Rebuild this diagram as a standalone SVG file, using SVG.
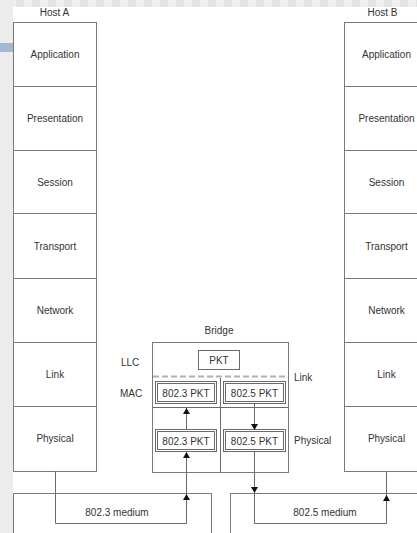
<svg xmlns="http://www.w3.org/2000/svg" width="417" height="533" viewBox="0 0 417 533">
<style>
.bx{fill:#fff;stroke:#7a7a7a;stroke-width:1}
.ln{fill:none;stroke:#6a6a6a;stroke-width:1}
.pk{fill:none;stroke:#6a6a6a;stroke-width:1}
text{font-family:"Liberation Sans",Arial,sans-serif;font-size:10px;fill:#333;text-anchor:middle}
.l{text-anchor:start}
</style>
<defs>
<pattern id="chk" width="16" height="8" patternUnits="userSpaceOnUse">
<rect width="16" height="8" fill="#efefef"/>
<rect width="8" height="8" fill="#e3e3e3"/>
</pattern>
<marker id="ah" viewBox="0 0 6 8" refX="6" refY="4" markerWidth="6" markerHeight="8" orient="auto" markerUnits="userSpaceOnUse">
<path d="M0,0.5 L6,4 L0,7.5 z" fill="#111"/>
</marker>
</defs>
<rect width="417" height="533" fill="#fff"/>
<rect x="0" y="0" width="417" height="7" fill="url(#chk)"/>
<rect x="0" y="0" width="13" height="533" fill="#ececec"/>
<rect x="0" y="43" width="13" height="9" fill="#a3b9d1"/>

<g id="hostA">
<text x="54.5" y="16">Host A</text>
<rect class="bx" x="13.5" y="22.5" width="83" height="64"/>
<rect class="bx" x="13.5" y="86.5" width="83" height="64"/>
<rect class="bx" x="13.5" y="150.5" width="83" height="63"/>
<rect class="bx" x="13.5" y="213.5" width="83" height="65"/>
<rect class="bx" x="13.5" y="278.5" width="83" height="64"/>
<rect class="bx" x="13.5" y="342.5" width="83" height="64"/>
<rect class="bx" x="13.5" y="406.5" width="83" height="65"/>
<text x="55" y="57.5">Application</text>
<text x="55" y="121.5">Presentation</text>
<text x="55" y="185.5">Session</text>
<text x="55" y="249.5">Transport</text>
<text x="55" y="313.5">Network</text>
<text x="55" y="377.5">Link</text>
<text x="55" y="441.5">Physical</text>
</g>

<g id="hostB">
<text x="382.5" y="16">Host B</text>
<rect class="bx" x="344.5" y="22.5" width="84" height="64"/>
<rect class="bx" x="344.5" y="86.5" width="84" height="64"/>
<rect class="bx" x="344.5" y="150.5" width="84" height="63"/>
<rect class="bx" x="344.5" y="213.5" width="84" height="65"/>
<rect class="bx" x="344.5" y="278.5" width="84" height="64"/>
<rect class="bx" x="344.5" y="342.5" width="84" height="64"/>
<rect class="bx" x="344.5" y="406.5" width="84" height="65"/>
<text x="386.5" y="57.5">Application</text>
<text x="386.5" y="121.5">Presentation</text>
<text x="386.5" y="185.5">Session</text>
<text x="386.5" y="249.5">Transport</text>
<text x="386.5" y="313.5">Network</text>
<text x="386.5" y="377.5">Link</text>
<text x="386.5" y="441.5">Physical</text>
</g>

<g id="bridge">
<text x="219" y="334">Bridge</text>
<rect class="bx" x="152.5" y="342.5" width="136" height="130"/>
<line x1="153" y1="376.5" x2="288" y2="376.5" stroke="#b0b0b0" stroke-width="2" stroke-dasharray="6 3"/>
<line class="ln" x1="153" y1="407.5" x2="288" y2="407.5"/>
<line class="ln" x1="220.5" y1="378" x2="220.5" y2="472"/>
<rect class="pk" x="198.5" y="350.5" width="41" height="19"/>
<text x="219" y="364">PKT</text>
<rect class="pk" x="155.5" y="381.5" width="61" height="22"/>
<rect class="pk" x="157.5" y="383.5" width="57" height="18"/>
<text x="186" y="396.5">802.3  PKT</text>
<rect class="pk" x="223.5" y="381.5" width="62" height="22"/>
<rect class="pk" x="225.5" y="383.5" width="58" height="18"/>
<text x="254.5" y="396.5">802.5  PKT</text>
<rect class="pk" x="155.5" y="429.5" width="61" height="22"/>
<rect class="pk" x="157.5" y="431.5" width="57" height="18"/>
<text x="186" y="444.5">802.3  PKT</text>
<rect class="pk" x="223.5" y="429.5" width="62" height="22"/>
<rect class="pk" x="225.5" y="431.5" width="58" height="18"/>
<text x="254.5" y="444.5">802.5  PKT</text>
<text class="l" x="121" y="366">LLC</text>
<text class="l" x="120" y="397">MAC</text>
<text class="l" x="294" y="381">Link</text>
<text class="l" x="294" y="444">Physical</text>
</g>

<g id="medium8023">
<rect class="bx" x="13.5" y="493.5" width="198" height="50"/>
<text x="117" y="516">802.3 medium</text>
</g>
<g id="medium8025">
<rect class="bx" x="230.5" y="493.5" width="200" height="50"/>
<text x="325" y="516">802.5 medium</text>
</g>

<g id="connectors">
<path class="ln" d="M55.5,471 V523.5 H186.5 V494" marker-end="url(#ah)"/>
<path class="ln" d="M186.5,494 V452" marker-end="url(#ah)"/>
<path class="ln" d="M186.5,430 V408" marker-end="url(#ah)"/>
<path class="ln" d="M254.5,403 V430" marker-end="url(#ah)"/>
<path class="ln" d="M254.5,452 V493" marker-end="url(#ah)"/>
<path class="ln" d="M254.5,493 V523.5 H386.5 V495" marker-end="url(#ah)"/>
<path class="ln" d="M386.5,495 V472"/>
</g>
</svg>
